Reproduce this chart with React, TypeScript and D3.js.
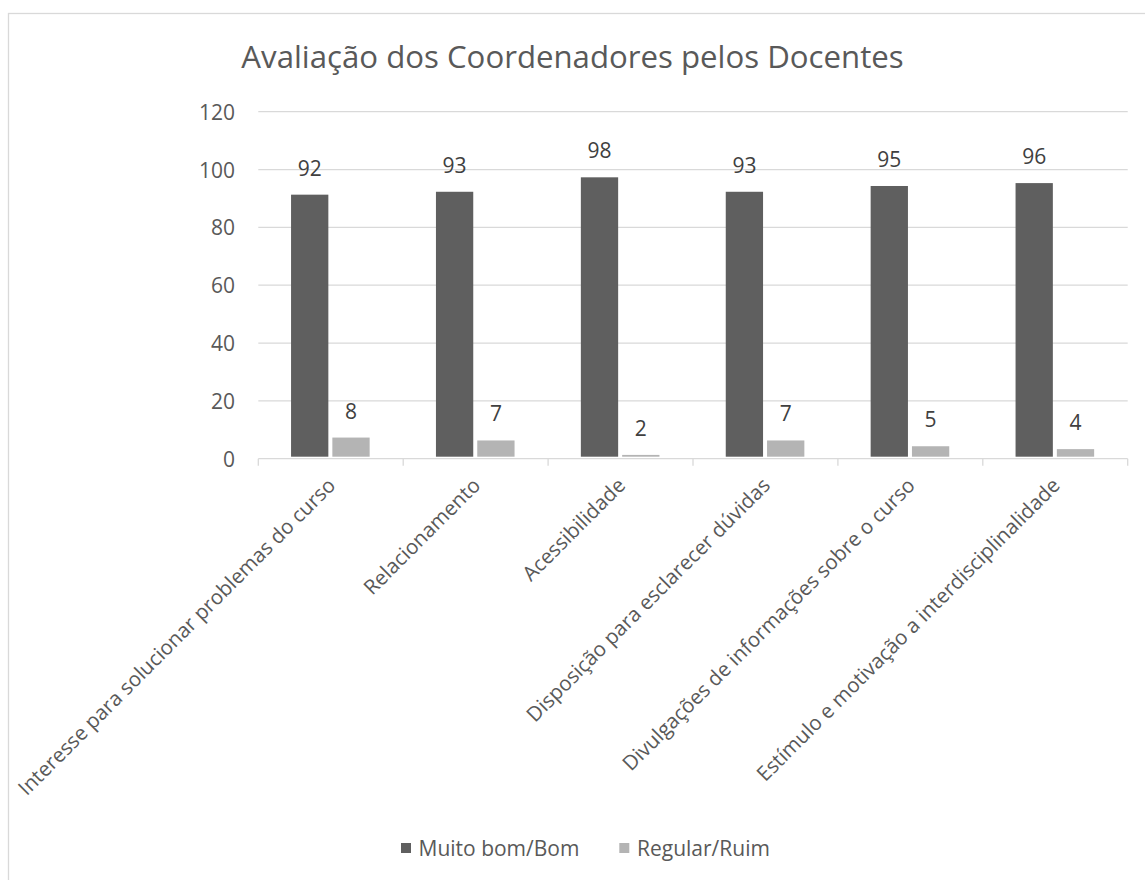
import React from 'react';
import * as d3 from 'd3';

const categories = [
  'Interesse para solucionar problemas do curso',
  'Relacionamento',
  'Acessibilidade',
  'Disposição para esclarecer dúvidas',
  'Divulgações de informações sobre o curso',
  'Estímulo e motivação a interdisciplinalidade',
];
const seriesNames = ['Muito bom/Bom', 'Regular/Ruim'];
const muitoBomBom = [92, 93, 98, 93, 95, 96];
const regularRuim = [8, 7, 2, 7, 5, 4];
const yTicks = [0, 20, 40, 60, 80, 100, 120];
const title = 'Avaliação dos Coordenadores pelos Docentes';

const seriesValues = [muitoBomBom, regularRuim];
const colors = ['#5f5f5f', '#b4b4b4'];
const FONT = '"Open Sans", "Segoe UI", sans-serif';
const TEXT = '#595959';
const GRID = '#d9d9d9';
const FS = 21;

export default function App() {
  const W = 1145;
  const H = 880;
  const left = 258.3;
  const right = 1127.7;
  const x = d3.scaleBand<string>().domain(categories).range([left, right]).padding(0);
  const bw = x.bandwidth();
  const groupW = 78.6;
  const x1 = d3
    .scaleBand<string>()
    .domain(seriesNames)
    .range([(bw - groupW) / 2 - 0.4, (bw + groupW) / 2 - 0.4])
    .paddingInner(0.097);
  const y = d3.scaleLinear().domain([0, 120]).range([458.7, 111.7]);

  const legendItems = [
    { name: seriesNames[0], sx: 401, tx: 418.5, color: colors[0] },
    { name: seriesNames[1], sx: 619.3, tx: 637, color: colors[1] },
  ];

  return (
    <svg
      width={W}
      height={H}
      style={{ position: 'absolute', left: 0, top: 0, display: 'block', background: '#fff' }}
      fontFamily={FONT}
    >
      <rect x={8.5} y={13.5} width={1160} height={900} fill="#fff" stroke={GRID} strokeWidth={1.3} />
      <text x={572.5} y={68} textAnchor="middle" fontSize={31.2} fill={TEXT}>
        {title}
      </text>
      {yTicks.map((t) => (
        <g key={t}>
          {t !== 0 && (
            <line x1={left} x2={right} y1={y(t)} y2={y(t)} stroke={GRID} strokeWidth={1.3} />
          )}
          <text x={235} y={y(t)} textAnchor="end" dominantBaseline="central" fontSize={FS} fill={TEXT}>
            {t}
          </text>
        </g>
      ))}
      {categories.map((c, i) => (
        <g key={c} transform={`translate(${x(c)},0)`}>
          {seriesNames.map((s, j) => {
            const v = seriesValues[j][i];
            const bx = x1(s)!;
            const top = y(v) + 2;
            const bottom = y(0) - 2;
            return (
              <g key={s}>
                <rect x={bx} y={top} width={x1.bandwidth()} height={Math.max(0.8, bottom - top)} fill={colors[j]} />
                <text
                  x={bx + x1.bandwidth() / 2}
                  y={y(v) - 25}
                  textAnchor="middle"
                  dominantBaseline="central"
                  fontSize={FS}
                  fill="#404040"
                >
                  {v}
                </text>
              </g>
            );
          })}
        </g>
      ))}
      <line x1={left} x2={right} y1={y(0)} y2={y(0)} stroke={GRID} strokeWidth={1.3} />
      {d3.range(categories.length + 1).map((k) => {
        const tx = left + k * bw;
        return <line key={k} x1={tx} x2={tx} y1={y(0)} y2={y(0) + 7} stroke={GRID} strokeWidth={1.3} />;
      })}
      {categories.map((c) => {
        const cx = x(c)! + bw / 2;
        return (
          <text
            key={c}
            transform={`translate(${cx + 6},${y(0) + 28}) rotate(-45)`}
            textAnchor="end"
            fontSize={20.5}
            fill={TEXT}
          >
            {c}
          </text>
        );
      })}
      {legendItems.map((l) => (
        <g key={l.name}>
          <rect x={l.sx} y={843} width={10} height={10} fill={l.color} />
          <text x={l.tx} y={848} dominantBaseline="central" fontSize={FS} fill={TEXT}>
            {l.name}
          </text>
        </g>
      ))}
    </svg>
  );
}
